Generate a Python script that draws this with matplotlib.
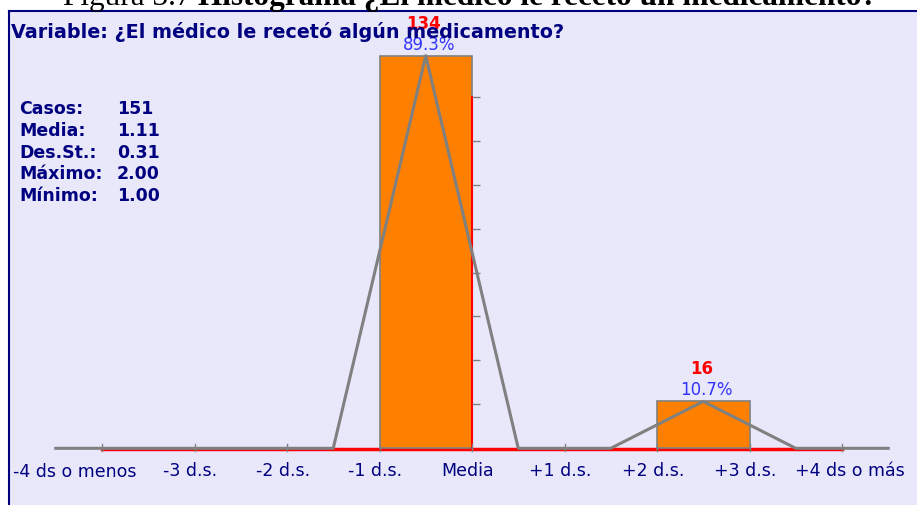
import matplotlib.pyplot as plt
from matplotlib.patches import Rectangle
from matplotlib.lines import Line2D

W, H = 917, 506

tick_pos = [-4, -3, -2, -1, 0, 1, 2, 3, 4]
tick_labels = ['-4 ds o menos', '-3 d.s.', '-2 d.s.', '-1 d.s.', 'Media',
               '+1 d.s.', '+2 d.s.', '+3 d.s.', '+4 ds o más']
bar_left = [-1, 2]
bar_count = [134, 16]
bar_pct = ['89.3%', '10.7%']
poly_x = [-4.5, -3.5, -2.5, -1.5, -0.5, 0.5, 1.5, 2.5, 3.5, 4.5]
poly_y = [0, 0, 0, 0, 134, 0, 0, 16, 0, 0]
scale_ticks = [15, 30, 45, 60, 75, 90, 105, 120]
stat_names = ['Casos:', 'Media:', 'Des.St.:', 'Máximo:', 'Mínimo:']
stat_values = ['151', '1.11', '0.31', '2.00', '1.00']

# pixel calibration of the plot area
x0, ux = 472, 92.5    # Media position, px per d.s.
y0, uy = 449.3, 2.93  # baseline, px per case

navy = '#000080'
gray = '#808080'


def fx(px):
    return px / W


def fy(py):
    return 1 - py / H


fig = plt.figure(figsize=(W / 100, H / 100), dpi=100)
fig.patch.set_facecolor('white')
ax = fig.add_axes([0, 0, 1, 1])
ax.set_xlim(-x0 / ux, (W - x0) / ux)
ax.set_ylim(-(H - y0) / uy, y0 / uy)
ax.axis('off')
ax.patch.set_visible(False)

# panel
ax.add_patch(Rectangle((fx(9), 0), 1 - fx(9), fy(12), transform=fig.transFigure,
                       facecolor='#e8e8fa', edgecolor='none', zorder=0))
ax.add_line(Line2D([fx(9), fx(9)], [0, fy(12)], transform=fig.transFigure,
                   color=navy, lw=1.5, zorder=1))
ax.add_line(Line2D([fx(9), 1], [fy(12), fy(12)], transform=fig.transFigure,
                   color=navy, lw=1.5, zorder=1))

# title (cut at the top like the original)
t1 = fig.text(fx(63), fy(5), 'Figura 3.7', family='Liberation Serif',
              fontsize=22.5, va='baseline')
ax.annotate('Histograma ¿El médico le recetó un medicamento?', xy=(1, 0),
            xycoords=t1, xytext=(7, 0), textcoords='offset pixels',
            family='Liberation Serif', fontweight='bold', fontsize=22.5,
            va='bottom', ha='left', annotation_clip=False)

fig.text(fx(11), fy(32), 'Variable: ¿El médico le recetó algún medicamento?',
         color=navy, fontsize=13.8, fontweight='bold', va='center')

for i, (n, v) in enumerate(zip(stat_names, stat_values)):
    yy = fy(109 + 21.8 * i)
    fig.text(fx(19), yy, n, color=navy, fontsize=12.5, fontweight='bold', va='center')
    fig.text(fx(117), yy, v, color=navy, fontsize=12.5, fontweight='bold', va='center')

# red base line and red scale line at the mean
ax.plot([tick_pos[0], tick_pos[-1]], [-0.4, -0.4], color='red', lw=2.5, zorder=2)
ax.bar(bar_left, bar_count, width=1, align='edge', color='#ff8000',
       edgecolor=gray, lw=1.2, zorder=3)
ax.plot([0, 0], [0, scale_ticks[-1]], color='red', lw=1.5, zorder=4)
ax.hlines(scale_ticks, 0, 0.09, color=gray, lw=1, zorder=4)

# frequency polygon
ax.plot(poly_x, poly_y, color=gray, lw=2.2, zorder=5)
for p in tick_pos:
    ax.plot([p, p], [-0.9, 1.4], color=gray, lw=1, zorder=5)

for l, c, pc in zip(bar_left, bar_count, bar_pct):
    ax.annotate(str(c), (l + 0.5, c), xytext=(-2, 33), textcoords='offset pixels',
                color='red', fontweight='bold', fontsize=12, ha='center', va='center')
    ax.annotate(pc, (l + 0.5, c), xytext=(3, 12), textcoords='offset pixels',
                color='#3333ff', fontsize=12, ha='center', va='center')

for i, (p, lab) in enumerate(zip(tick_pos, tick_labels)):
    if i == 0:
        fig.text(fx(13), fy(472), lab, color=navy, fontsize=12.5, ha='left', va='center')
    else:
        dx = 8 if i == len(tick_pos) - 1 else -4
        ax.annotate(lab, (p, 0), xytext=(dx, -22), textcoords='offset pixels',
                    color=navy, fontsize=12.5, ha='center', va='center')

plt.savefig('out.png', dpi=100)
